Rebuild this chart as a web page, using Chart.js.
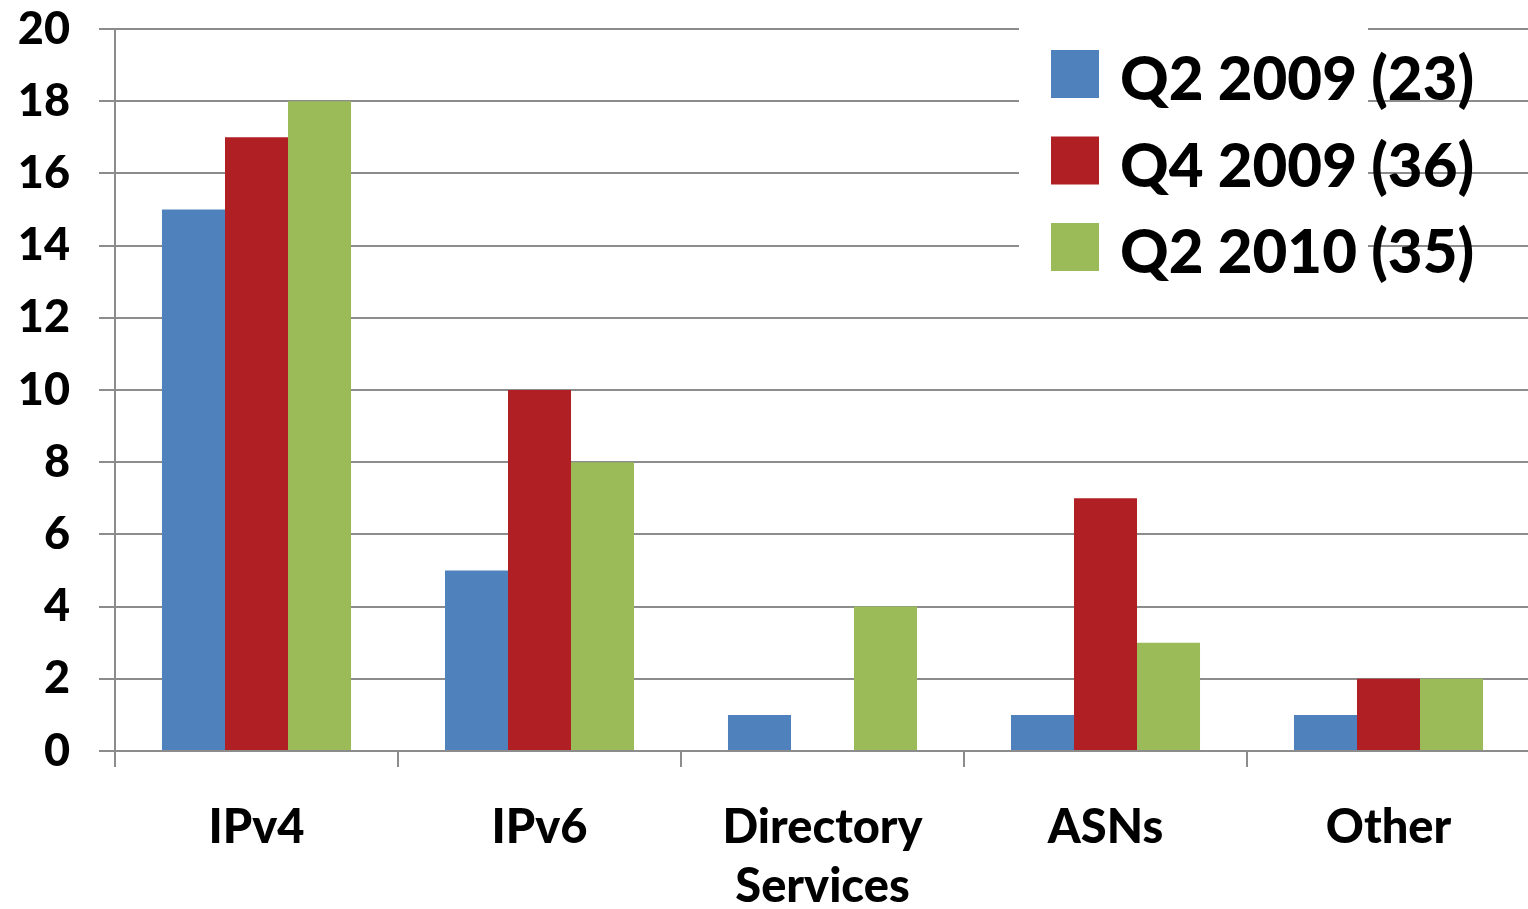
<!DOCTYPE html>
<html><head><meta charset="utf-8">
<script src="https://cdn.jsdelivr.net/npm/chart.js@4.4.1/dist/chart.umd.min.js"></script>
<style>html,body{margin:0;padding:0;background:#fff;overflow:hidden}
#wrap{position:relative;width:1530px;height:909px}</style></head>
<body><div id="wrap"><canvas id="c" width="1530" height="909"></canvas></div>
<script>
const categories = ['IPv4', 'IPv6', ['Directory', 'Services'], 'ASNs', 'Other'];
const seriesLabels = ['Q2 2009 (23)', 'Q4 2009 (36)', 'Q2 2010 (35)'];
const q2_2009 = [15, 5, 1, 1, 1];
const q4_2009 = [17, 10, 0, 7, 2];
const q2_2010 = [18, 8, 4, 3, 2];
const yTickValues = [0, 2, 4, 6, 8, 10, 12, 14, 16, 18, 20];
const seriesColors = ['#4F81BD', '#B01F24', '#9BBB59'];

const FONT = "Lato, 'Open Sans', sans-serif";
const GRID = '#8c8c8c';

const boxLegend = {
  id: 'boxLegend',
  afterDatasetsDraw(chart) {
    const ctx = chart.ctx;
    ctx.save();
    ctx.fillStyle = '#fff';
    ctx.fillRect(1019, 18, 349, 282);
    chart.data.datasets.forEach((ds, i) => {
      const base = 100 + i * 86.5;
      ctx.fillStyle = ds.backgroundColor;
      ctx.fillRect(1051, base - 50, 48, 48);
      ctx.fillStyle = '#000';
      ctx.font = '900 60px ' + FONT;
      ctx.textAlign = 'left';
      ctx.textBaseline = 'alphabetic';
      ctx.fillText(ds.label, 1120, base);
    });
    ctx.restore();
  }
};

const seriesData = [q2_2009, q4_2009, q2_2010];
new Chart(document.getElementById('c'), {
  type: 'bar',
  data: {
    labels: categories,
    datasets: seriesLabels.map((l, i) => ({
      label: l,
      data: seriesData[i],
      backgroundColor: seriesColors[i],
      borderWidth: 0,
      barPercentage: 1,
      categoryPercentage: 0.668
    }))
  },
  options: {
    responsive: false,
    animation: false,
    devicePixelRatio: 1,
    layout: { padding: { top: 29, right: 0, left: 0, bottom: 0 } },
    plugins: { legend: { display: false }, tooltip: { enabled: false } },
    scales: {
      x: {
        offset: true,
        grid: { offset: true, drawOnChartArea: false, drawTicks: true, tickLength: 16, color: GRID, lineWidth: 2 },
        border: { display: true, color: GRID, width: 2 },
        ticks: { color: '#000', font: { family: FONT, size: 47, weight: '900', lineHeight: 1.26 }, padding: 31, maxRotation: 0, autoSkip: false },
        afterFit(s) { s.height = 158; s.paddingLeft = 0; s.paddingRight = 0; }
      },
      y: {
        min: 0, max: 20,
        afterBuildTicks(s) { s.ticks = yTickValues.map(v => ({ value: v })); },
        grid: { color: GRID, lineWidth: 2, tickLength: 16 },
        border: { display: true, color: GRID, width: 2 },
        ticks: { color: '#000', font: { family: FONT, size: 45, weight: '900' }, padding: 29 },
        afterFit(s) { s.width = 115; s.paddingTop = 0; s.paddingBottom = 0; }
      }
    }
  },
  plugins: [boxLegend]
});
</script></body></html>
